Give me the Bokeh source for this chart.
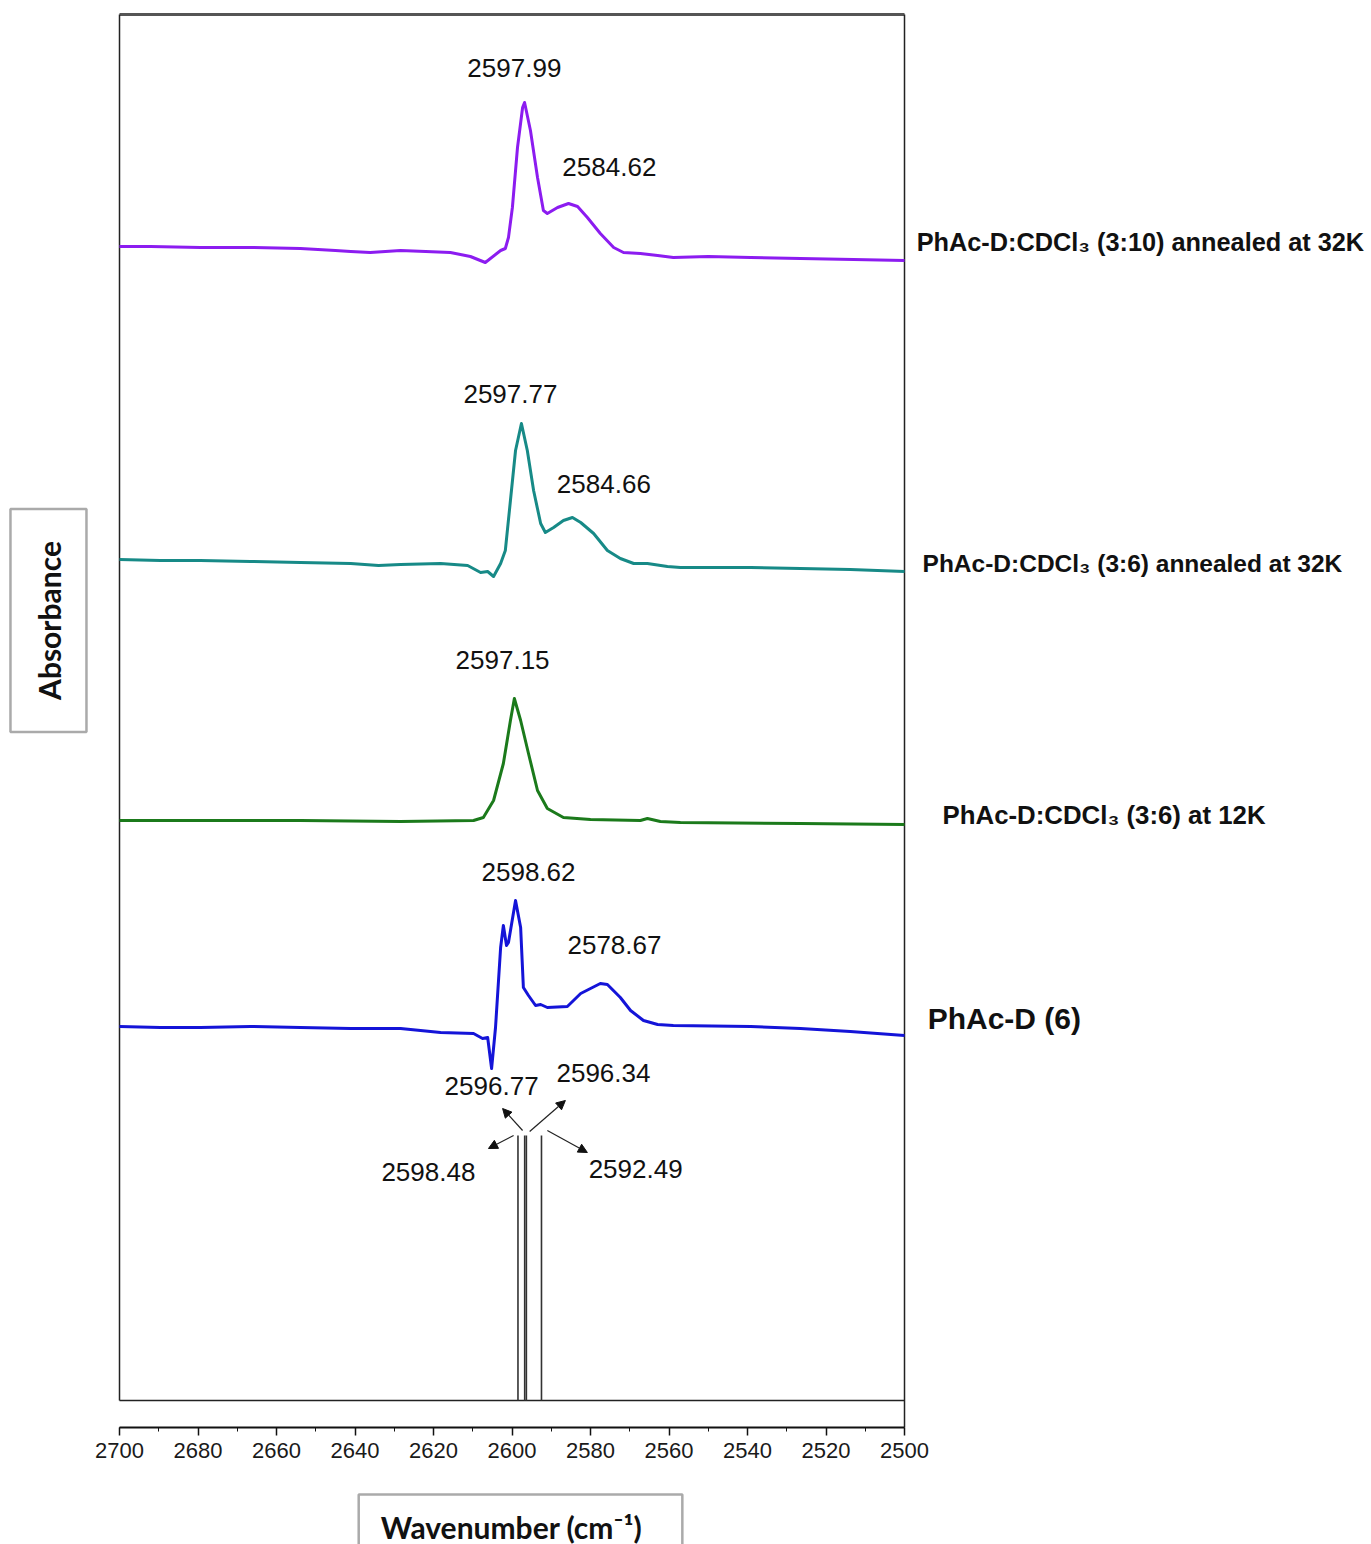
import math
from bokeh.plotting import figure
from bokeh.layouts import column
from bokeh.models import (Range1d, SingleIntervalTicker, Label, Arrow,
                          NormalHead, ColumnDataSource)
from bokeh.core.properties import value
from bokeh.embed import file_html
from bokeh.resources import INLINE

# ---------------- data (arbitrary absorbance units) -------------
# PhAc-D:CDCl3 (3:10) annealed at 32K  (purple)
wn_a = [2700.0, 2692.1, 2679.4, 2666.6, 2653.9, 2645.0, 2641.1, 2636.1, 2628.4, 2622.0,
        2615.7, 2610.6, 2606.8, 2602.9, 2601.7, 2600.9, 2599.9, 2598.6, 2597.3, 2596.8,
        2595.3, 2593.5, 2592.0, 2591.0, 2588.4, 2585.6, 2583.3, 2580.8, 2577.5, 2574.1,
        2571.6, 2567.3, 2562.9, 2558.9, 2550.0, 2539.2, 2526.5, 2513.0, 2500.0]
ab_a = [0.004, 0.004, 0.003, 0.003, 0.002, 0.000, -0.001, -0.002, 0.000, -0.001,
        -0.002, -0.006, -0.012, 0.000, 0.002, 0.013, 0.043, 0.103, 0.143, 0.148,
        0.120, 0.073, 0.040, 0.037, 0.043, 0.047, 0.044, 0.033, 0.017, 0.003,
        -0.002, -0.003, -0.005, -0.007, -0.006, -0.007, -0.008, -0.009, -0.010]

# PhAc-D:CDCl3 (3:6) annealed at 32K  (teal)
wn_b = [2700.0, 2689.6, 2679.4, 2666.6, 2653.9, 2641.1, 2634.0, 2628.4, 2618.2, 2611.3,
        2608.0, 2606.2, 2604.7, 2602.9, 2601.7, 2600.4, 2599.1, 2597.6, 2596.1, 2594.5,
        2592.7, 2591.5, 2589.4, 2586.9, 2584.6, 2582.5, 2579.2, 2575.7, 2572.4, 2569.0,
        2565.5, 2560.4, 2557.1, 2539.2, 2526.5, 2513.8, 2500.0]
ab_b = [0.006, 0.005, 0.005, 0.004, 0.003, 0.002, 0.000, 0.001, 0.002, 0.000,
        -0.007, -0.006, -0.011, 0.002, 0.015, 0.065, 0.115, 0.142, 0.115, 0.075,
        0.042, 0.033, 0.038, 0.045, 0.048, 0.043, 0.032, 0.015, 0.007, 0.002,
        0.002, -0.001, -0.002, -0.002, -0.003, -0.004, -0.006]

# PhAc-D:CDCl3 (3:6) at 12K  (green)
wn_c = [2700.0, 2679.4, 2653.9, 2628.4, 2609.8, 2607.3, 2604.7, 2602.2, 2600.4, 2599.4,
        2597.8, 2595.8, 2593.5, 2591.0, 2586.9, 2580.0, 2567.3, 2565.5, 2562.2, 2557.1,
        2526.5, 2500.0]
ab_c = [0.000, 0.000, 0.000, -0.001, 0.000, 0.003, 0.020, 0.057, 0.100, 0.122,
        0.100, 0.067, 0.030, 0.012, 0.003, 0.001, 0.000, 0.002, -0.001, -0.002,
        -0.003, -0.004]

# PhAc-D (6)  (blue)
wn_d = [2700.0, 2689.6, 2679.4, 2666.6, 2653.9, 2641.1, 2628.4, 2618.2, 2609.8, 2607.5,
        2606.2, 2605.2, 2604.2, 2602.9, 2602.2, 2601.4, 2600.9, 2599.1, 2597.8, 2597.1,
        2595.8, 2594.0, 2592.7, 2591.0, 2585.9, 2582.5, 2577.5, 2575.7, 2572.4, 2569.8,
        2566.5, 2562.9, 2558.9, 2539.2, 2526.5, 2513.8, 2500.0]
ab_d = [0.004, 0.003, 0.003, 0.004, 0.003, 0.002, 0.002, -0.002, -0.003, -0.008,
        -0.007, -0.038, 0.003, 0.083, 0.105, 0.085, 0.088, 0.130, 0.103, 0.043,
        0.035, 0.025, 0.026, 0.023, 0.024, 0.037, 0.047, 0.046, 0.033, 0.020,
        0.010, 0.006, 0.005, 0.004, 0.002, -0.001, -0.005]

series_names = ["PhAc-D:CDCl\u2083 (3:10) annealed at 32K",
                "PhAc-D:CDCl\u2083 (3:6) annealed at 32K",
                "PhAc-D:CDCl\u2083 (3:6) at 12K",
                "PhAc-D (6)"]
series_offsets = [1.150, 0.835, 0.580, 0.370]
series_colors = ["#8c1cf0", "#178a87", "#1b7a1b", "#1414d8"]
series_label_x = [2496.9, 2495.4, 2490.3, 2494.1]
series_label_y = [1.159, 0.837, 0.586, 0.382]
series_label_size = ["25.3px", "24.5px", "25.8px", "30px"]

# calculated stick spectrum
stick_wn = [2598.48, 2596.77, 2596.34, 2592.49]
stick_int = [0.265, 0.265, 0.265, 0.265]

# peak annotations
peak_text = ["2597.99", "2584.62", "2597.77", "2584.66", "2597.15", "2598.62", "2578.67",
             "2596.77", "2596.34", "2598.48", "2592.49"]
peak_x = [2599.4, 2575.2, 2600.4, 2576.6, 2602.4, 2595.8, 2573.9,
          2605.2, 2576.7, 2621.3, 2568.5]
peak_y = [1.333, 1.234, 1.007, 0.917, 0.741, 0.529, 0.456,
          0.315, 0.328, 0.229, 0.232]

# arrows from sticks to their labels
arr_x0 = [2597.3, 2595.5, 2599.6, 2591.0]
arr_y0 = [0.270, 0.269, 0.265, 0.270]
arr_x1 = [2602.4, 2586.4, 2606.0, 2580.8]
arr_y1 = [0.292, 0.300, 0.252, 0.248]

x_start, x_end = 2700, 2500
x_ticks_interval = 20
x_title = "Wavenumber (cm\u207b\u00b9)"
y_title = "Absorbance"

# ---------------- main figure ----------------
Y_MIN, Y_TOP, Y_CANVAS_TOP = -0.027, 1.386, 1.400
xr = Range1d(2730.32, 2381.02)
p = figure(width=1371, height=1484, output_backend="svg", toolbar_location=None,
           x_range=xr, y_range=Range1d(Y_MIN, Y_CANVAS_TOP),
           y_axis_location=None, min_border_left=0, min_border_right=0,
           min_border_top=0, min_border_bottom=57)
p.outline_line_color = None
p.xgrid.visible = False
p.ygrid.visible = False

ax = p.xaxis[0]
ax.bounds = (x_end, x_start)
ax.ticker = SingleIntervalTicker(interval=x_ticks_interval, num_minor_ticks=2)
ax.axis_line_width = 2
ax.axis_line_color = "#111111"
ax.major_tick_in = 0
ax.major_tick_out = 8
ax.minor_tick_in = 0
ax.minor_tick_out = 4
ax.major_tick_line_width = 1.5
ax.major_tick_line_color = "#111111"
ax.minor_tick_line_color = "#111111"
ax.major_label_text_font = "Liberation Sans"
ax.major_label_text_font_size = "22px"
ax.major_label_text_color = "#1a1a1a"
ax.major_label_standoff = 7

# plot box lines
p.segment(x0=[x_start], y0=[Y_TOP], x1=[x_end], y1=[Y_TOP], line_color="#555555", line_width=3)
p.segment(x0=[x_end], y0=[Y_TOP], x1=[x_end], y1=[Y_MIN], line_color="#222222", line_width=1.5)
p.segment(x0=[x_start], y0=[Y_TOP], x1=[x_start], y1=[0], line_color="#222222", line_width=1.5)
p.segment(x0=[x_start], y0=[0], x1=[x_end], y1=[0], line_color="#222222", line_width=1.5)

# spectra
traces = [(wn_a, ab_a), (wn_b, ab_b), (wn_c, ab_c), (wn_d, ab_d)]
for (wn, ab), off, col in zip(traces, series_offsets, series_colors):
    p.line(wn, [v + off for v in ab], line_color=col, line_width=3, line_join="round")

# sticks
p.segment(x0=stick_wn, y0=[0] * len(stick_wn), x1=stick_wn, y1=stick_int,
          line_color="#333333", line_width=1.6)

# arrows
asrc = ColumnDataSource(dict(x0=arr_x0, y0=arr_y0, x1=arr_x1, y1=arr_y1))
p.add_layout(Arrow(end=NormalHead(size=9, fill_color="#111111", line_color="#111111"),
                   x_start="x0", y_start="y0", x_end="x1", y_end="y1",
                   line_color="#222222", line_width=1.2, source=asrc))

# peak labels
psrc = ColumnDataSource(dict(x=peak_x, y=peak_y, t=peak_text))
p.text(x="x", y="y", text="t", source=psrc, text_font=value("Liberation Sans"),
       text_font_size="26px", text_color="#111111", text_align="center",
       text_baseline="middle")

# series labels (right of the box)
for name, lx, ly, fs in zip(series_names, series_label_x, series_label_y, series_label_size):
    p.add_layout(Label(x=lx, y=ly, text=name, text_font="Liberation Sans",
                       text_font_style="bold", text_font_size=fs, text_color="#111111",
                       text_align="left", text_baseline="middle"))

# y title in a grey box (padding order: left, right, top, bottom)
p.add_layout(Label(x=2718.1, y=0.780, text=y_title, angle=math.pi / 2,
                   text_font="Lato", text_font_style="bold", text_font_size="30px",
                   text_color="#111111", text_align="center", text_baseline="middle",
                   border_line_color="#aaaaaa", border_line_width=2.5,
                   background_fill_color="white", padding=(32, 32, 21, 19)))

# ---------------- strip below the axis for the x title ----------------
q = figure(width=1371, height=60, output_backend="svg", toolbar_location=None,
           x_range=xr, y_range=Range1d(-0.144, -0.084),
           x_axis_location=None, y_axis_location=None,
           min_border_left=0, min_border_right=0, min_border_top=0, min_border_bottom=0)
q.outline_line_color = None
q.xgrid.visible = False
q.ygrid.visible = False
q.add_layout(Label(x=2597.83, y=-0.126, text=x_title,
                   text_font="Lato", text_font_style="bold", text_font_size="30px",
                   text_color="#111111", text_align="center", text_baseline="middle",
                   border_line_color="#aaaaaa", border_line_width=2.5,
                   background_fill_color="white", padding=(22, 40, 14, 14)))

layout = column(p, q, spacing=0)
open("out.html", "w").write(file_html(layout, INLINE))
